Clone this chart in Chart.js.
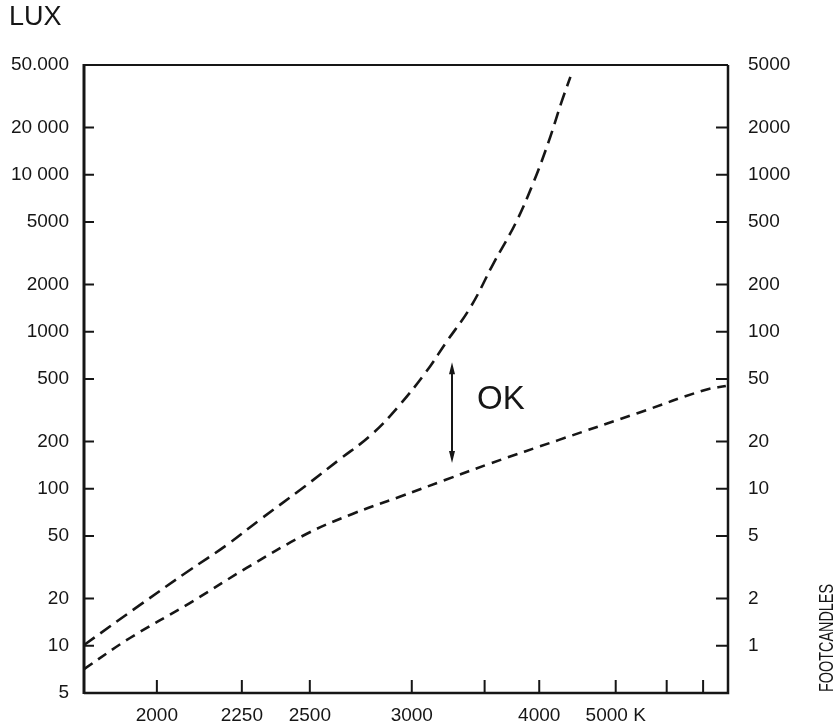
<!DOCTYPE html>
<html>
<head>
<meta charset="utf-8">
<script src="https://cdn.jsdelivr.net/npm/chart.js@4.4.1/dist/chart.umd.min.js"></script>
<style>
  html, body { margin: 0; padding: 0; background: #fff; }
  #wrap { width: 839px; height: 728px; }
</style>
</head>
<body>
<div id="wrap"><canvas id="kruithof" width="839" height="728"></canvas></div>
<script>
// colour temperature (K) and illuminance (lux)
var upperTemps = [1826, 1957, 2082, 2201, 2310, 2478, 2626, 2778, 2916, 3086, 3214, 3392, 3574, 3768, 3942, 4100, 4247, 4355];
var upperLux = [10.1, 18.2, 29.5, 43.8, 63.2, 103, 153, 220, 327, 554, 848, 1440, 2740, 4930, 8990, 16200, 29000, 42000];
var lowerTemps = [1826, 1932, 2090, 2266, 2486, 2687, 2927, 3214, 3558, 4210, 5397, 7062, 7813];
var lowerLux = [7.1, 11.2, 18.7, 31.3, 51.5, 69.1, 88.6, 114, 146, 204, 304, 426, 451];

var tempTicks = [2000, 2250, 2500, 3000, 3500, 4000, 5000, 6000, 7000];
var tempTickLabels = ['2000', '2250', '2500', '3000', '', '4000', '5000 K', '', ''];
var luxTicks = [5, 10, 20, 50, 100, 200, 500, 1000, 2000, 5000, 10000, 20000, 50000];
var luxTickLabels = ['5', '10', '20', '50', '100', '200', '500', '1000', '2000', '5000', '10 000', '20 000', '50.000'];
var fcTicks = [1, 2, 5, 10, 20, 50, 100, 200, 500, 1000, 2000, 5000];

// the "OK" marker between the curves
var okTemp = 3257;
var okFrom = 146, okTo = 640;
var okLabelTemp = 3440, okLabelLux = 367;

var ink = '#161616';
var tickFont = { family: '"Liberation Sans", Arial, sans-serif', size: 19 };

// x axis is reciprocal temperature (mired), hotter to the right
function mired(t) { return 1e6 / t; }

function labelFor(list, labels, v) {
  for (var i = 0; i < list.length; i++) {
    if (Math.abs(list[i] - v) < 1e-6) return labels[i];
  }
  return '';
}

var frame = {
  id: 'frame',
  afterDraw: function (chart) {
    var ctx = chart.ctx, a = chart.chartArea;
    var x = chart.scales.x, y = chart.scales.y, y2 = chart.scales.y2;
    ctx.save();
    ctx.strokeStyle = ink;
    ctx.fillStyle = ink;

    // box
    ctx.lineWidth = 3;
    ctx.beginPath(); ctx.moveTo(a.left, a.top - 1); ctx.lineTo(a.left, a.bottom + 1); ctx.stroke();
    ctx.lineWidth = 2.5;
    ctx.beginPath(); ctx.moveTo(a.left, a.bottom); ctx.lineTo(a.right, a.bottom); ctx.lineTo(a.right, a.top); ctx.stroke();
    ctx.lineWidth = 2;
    ctx.beginPath(); ctx.moveTo(a.left, a.top); ctx.lineTo(a.right, a.top); ctx.stroke();

    // inward tick marks
    ctx.lineWidth = 2;
    ctx.beginPath();
    luxTicks.forEach(function (v) {
      if (v <= y.min || v >= y.max) return;
      var p = y.getPixelForValue(v);
      ctx.moveTo(a.left, p); ctx.lineTo(a.left + 10, p);
    });
    fcTicks.forEach(function (v) {
      if (v <= y2.min || v >= y2.max) return;
      var p = y2.getPixelForValue(v);
      ctx.moveTo(a.right, p); ctx.lineTo(a.right - 12, p);
    });
    tempTicks.forEach(function (t) {
      var p = x.getPixelForValue(mired(t));
      ctx.moveTo(p, a.bottom); ctx.lineTo(p, a.bottom - 13);
    });
    ctx.stroke();

    // OK arrow
    var px = x.getPixelForValue(mired(okTemp));
    var top = y.getPixelForValue(okTo), bot = y.getPixelForValue(okFrom);
    ctx.lineWidth = 2;
    ctx.beginPath(); ctx.moveTo(px, top + 4); ctx.lineTo(px, bot - 4); ctx.stroke();
    ctx.beginPath();
    ctx.moveTo(px, top); ctx.lineTo(px - 3, top + 12); ctx.lineTo(px + 3, top + 12); ctx.closePath();
    ctx.moveTo(px, bot); ctx.lineTo(px - 3, bot - 12); ctx.lineTo(px + 3, bot - 12); ctx.closePath();
    ctx.fill();

    ctx.font = '33px "Liberation Sans", Arial, sans-serif';
    ctx.textAlign = 'left';
    ctx.textBaseline = 'middle';
    ctx.fillText('OK', x.getPixelForValue(mired(okLabelTemp)), y.getPixelForValue(okLabelLux));

    // axis titles
    ctx.font = '27px "Liberation Sans", Arial, sans-serif';
    ctx.fillText('LUX', 9, 18);
    ctx.save();
    ctx.translate(827, 638);
    ctx.rotate(-Math.PI / 2);
    ctx.scale(0.72, 1);
    ctx.textAlign = 'center';
    ctx.font = '20px "Liberation Sans", Arial, sans-serif';
    ctx.fillText('FOOTCANDLES', 0, 0);
    ctx.restore();

    ctx.restore();
  }
};

function toPoints(temps, lux) {
  return temps.map(function (t, i) { return { x: mired(t), y: lux[i] }; });
}

new Chart(document.getElementById('kruithof').getContext('2d'), {
  type: 'line',
  data: {
    datasets: [{
      label: 'upper',
      data: toPoints(upperTemps, upperLux),
      borderColor: ink,
      borderWidth: 2.6,
      borderDash: [13, 7],
      tension: 0.4,
      pointRadius: 0,
      fill: false
    }, {
      label: 'lower',
      data: toPoints(lowerTemps, lowerLux),
      borderColor: ink,
      borderWidth: 2.6,
      borderDash: [10, 7],
      tension: 0.4,
      pointRadius: 0,
      fill: false
    }]
  },
  options: {
    responsive: false,
    animation: false,
    layout: { padding: { top: 65, left: 0, right: 0, bottom: 0 } },
    plugins: { legend: { display: false }, tooltip: { enabled: false } },
    scales: {
      x: {
        type: 'linear',
        reverse: true,
        min: mired(7900),
        max: mired(1826),
        afterBuildTicks: function (s) { s.ticks = tempTicks.map(function (t) { return { value: mired(t) }; }); },
        afterFit: function (s) { s.height = 35; },
        ticks: {
          autoSkip: false, maxRotation: 0, padding: 11, color: ink, font: tickFont,
          callback: function (v) { return labelFor(tempTicks.map(mired), tempTickLabels, v); }
        },
        grid: { display: false, drawTicks: false },
        border: { display: false }
      },
      y: {
        type: 'logarithmic',
        position: 'left',
        min: 5,
        max: 50000,
        afterBuildTicks: function (s) { s.ticks = luxTicks.map(function (v) { return { value: v }; }); },
        afterFit: function (s) { s.width = 84; },
        ticks: {
          autoSkip: false, padding: 15, color: ink, font: tickFont,
          callback: function (v) { return labelFor(luxTicks, luxTickLabels, v); }
        },
        grid: { display: false, drawTicks: false },
        border: { display: false }
      },
      y2: {
        type: 'logarithmic',
        position: 'right',
        min: 0.5,
        max: 5000,
        afterBuildTicks: function (s) { s.ticks = fcTicks.map(function (v) { return { value: v }; }); },
        afterFit: function (s) { s.width = 111; },
        ticks: {
          autoSkip: false, padding: 20, color: ink, font: tickFont,
          callback: function (v) { return String(v); }
        },
        grid: { display: false, drawTicks: false },
        border: { display: false }
      }
    }
  },
  plugins: [frame]
});
</script>
</body>
</html>
